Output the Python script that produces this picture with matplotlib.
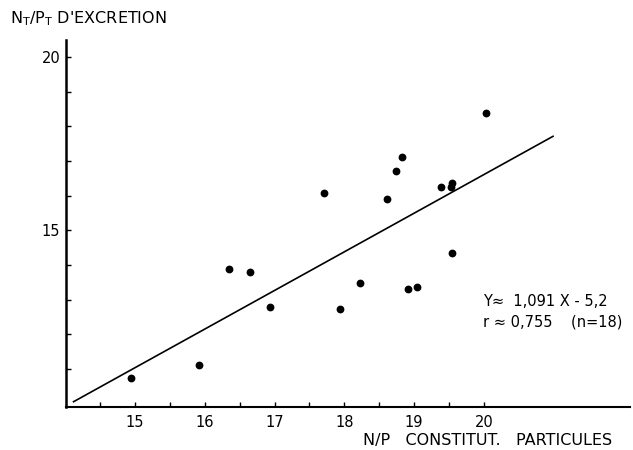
import matplotlib
matplotlib.use("Agg")
import matplotlib.pyplot as plt
import numpy as np

# Data
np_particles = [14.94, 15.92, 16.35, 16.65, 16.94, 17.94, 18.22, 17.71, 18.74,
                18.83, 18.61, 19.39, 19.54, 19.53, 19.54, 20.03, 18.91, 19.04]
nt_pt_excretion = [10.74, 11.11, 13.88, 13.78, 12.78, 12.72, 13.49, 16.07, 16.72,
                   17.11, 15.90, 16.26, 16.35, 16.26, 14.35, 18.39, 13.29, 13.36]

# Regression line endpoints (Y = 1,091 X - 5,2), as drawn
reg_x = [14.11, 21.0]
reg_y = [10.04, 17.72]

x_major = [15, 16, 17, 18, 19, 20]
x_minor = [14.5, 15.5, 16.5, 17.5, 18.5, 19.5]
y_major = [15, 20]
y_minor = [11, 12, 13, 14, 16, 17, 18, 19]

fig = plt.figure(figsize=(6.33, 4.5), dpi=100)
ax = fig.add_axes([0.104, 0.0956, 0.891, 0.815])

ax.plot(reg_x, reg_y, color="black", lw=1.2, solid_capstyle="butt")
ax.plot(np_particles, nt_pt_excretion, "o", color="black", markersize=4.6, mec="black")

ax.set_xlim(14.01, 22.09)
ax.set_ylim(9.9, 20.48)

for s in ["top", "right"]:
    ax.spines[s].set_visible(False)
ax.spines["left"].set_linewidth(1.8)
ax.spines["bottom"].set_linewidth(1.5)

ax.set_xticks(x_major)
ax.set_xticks(x_minor, minor=True)
ax.set_yticks(y_major)
ax.set_yticks(y_minor, minor=True)
ax.set_xticklabels([str(v) for v in x_major])
ax.set_yticklabels([str(v) for v in y_major])
ax.tick_params(axis="both", which="both", direction="in", length=3.5, width=1.0,
               labelsize=10.5)
ax.tick_params(axis="x", pad=6)
ax.tick_params(axis="y", pad=4)

fig.text(0.016, 0.958, r"N$_{\rm T}$/P$_{\rm T}$ D'EXCRETION", fontsize=11.5,
         ha="left", va="center")
fig.text(0.967, 0.022, "N/P   CONSTITUT.   PARTICULES", fontsize=11.5,
         ha="right", va="center")

ax.text(0.763, 0.329, "Y≈  1,091 X - 5,2", transform=fig.transFigure, fontsize=10.5,
        ha="left", va="center")
ax.text(0.763, 0.284, "r ≈ 0,755    (n=18)", transform=fig.transFigure, fontsize=10.5,
        ha="left", va="center")

fig.savefig("out.png", dpi=100)
